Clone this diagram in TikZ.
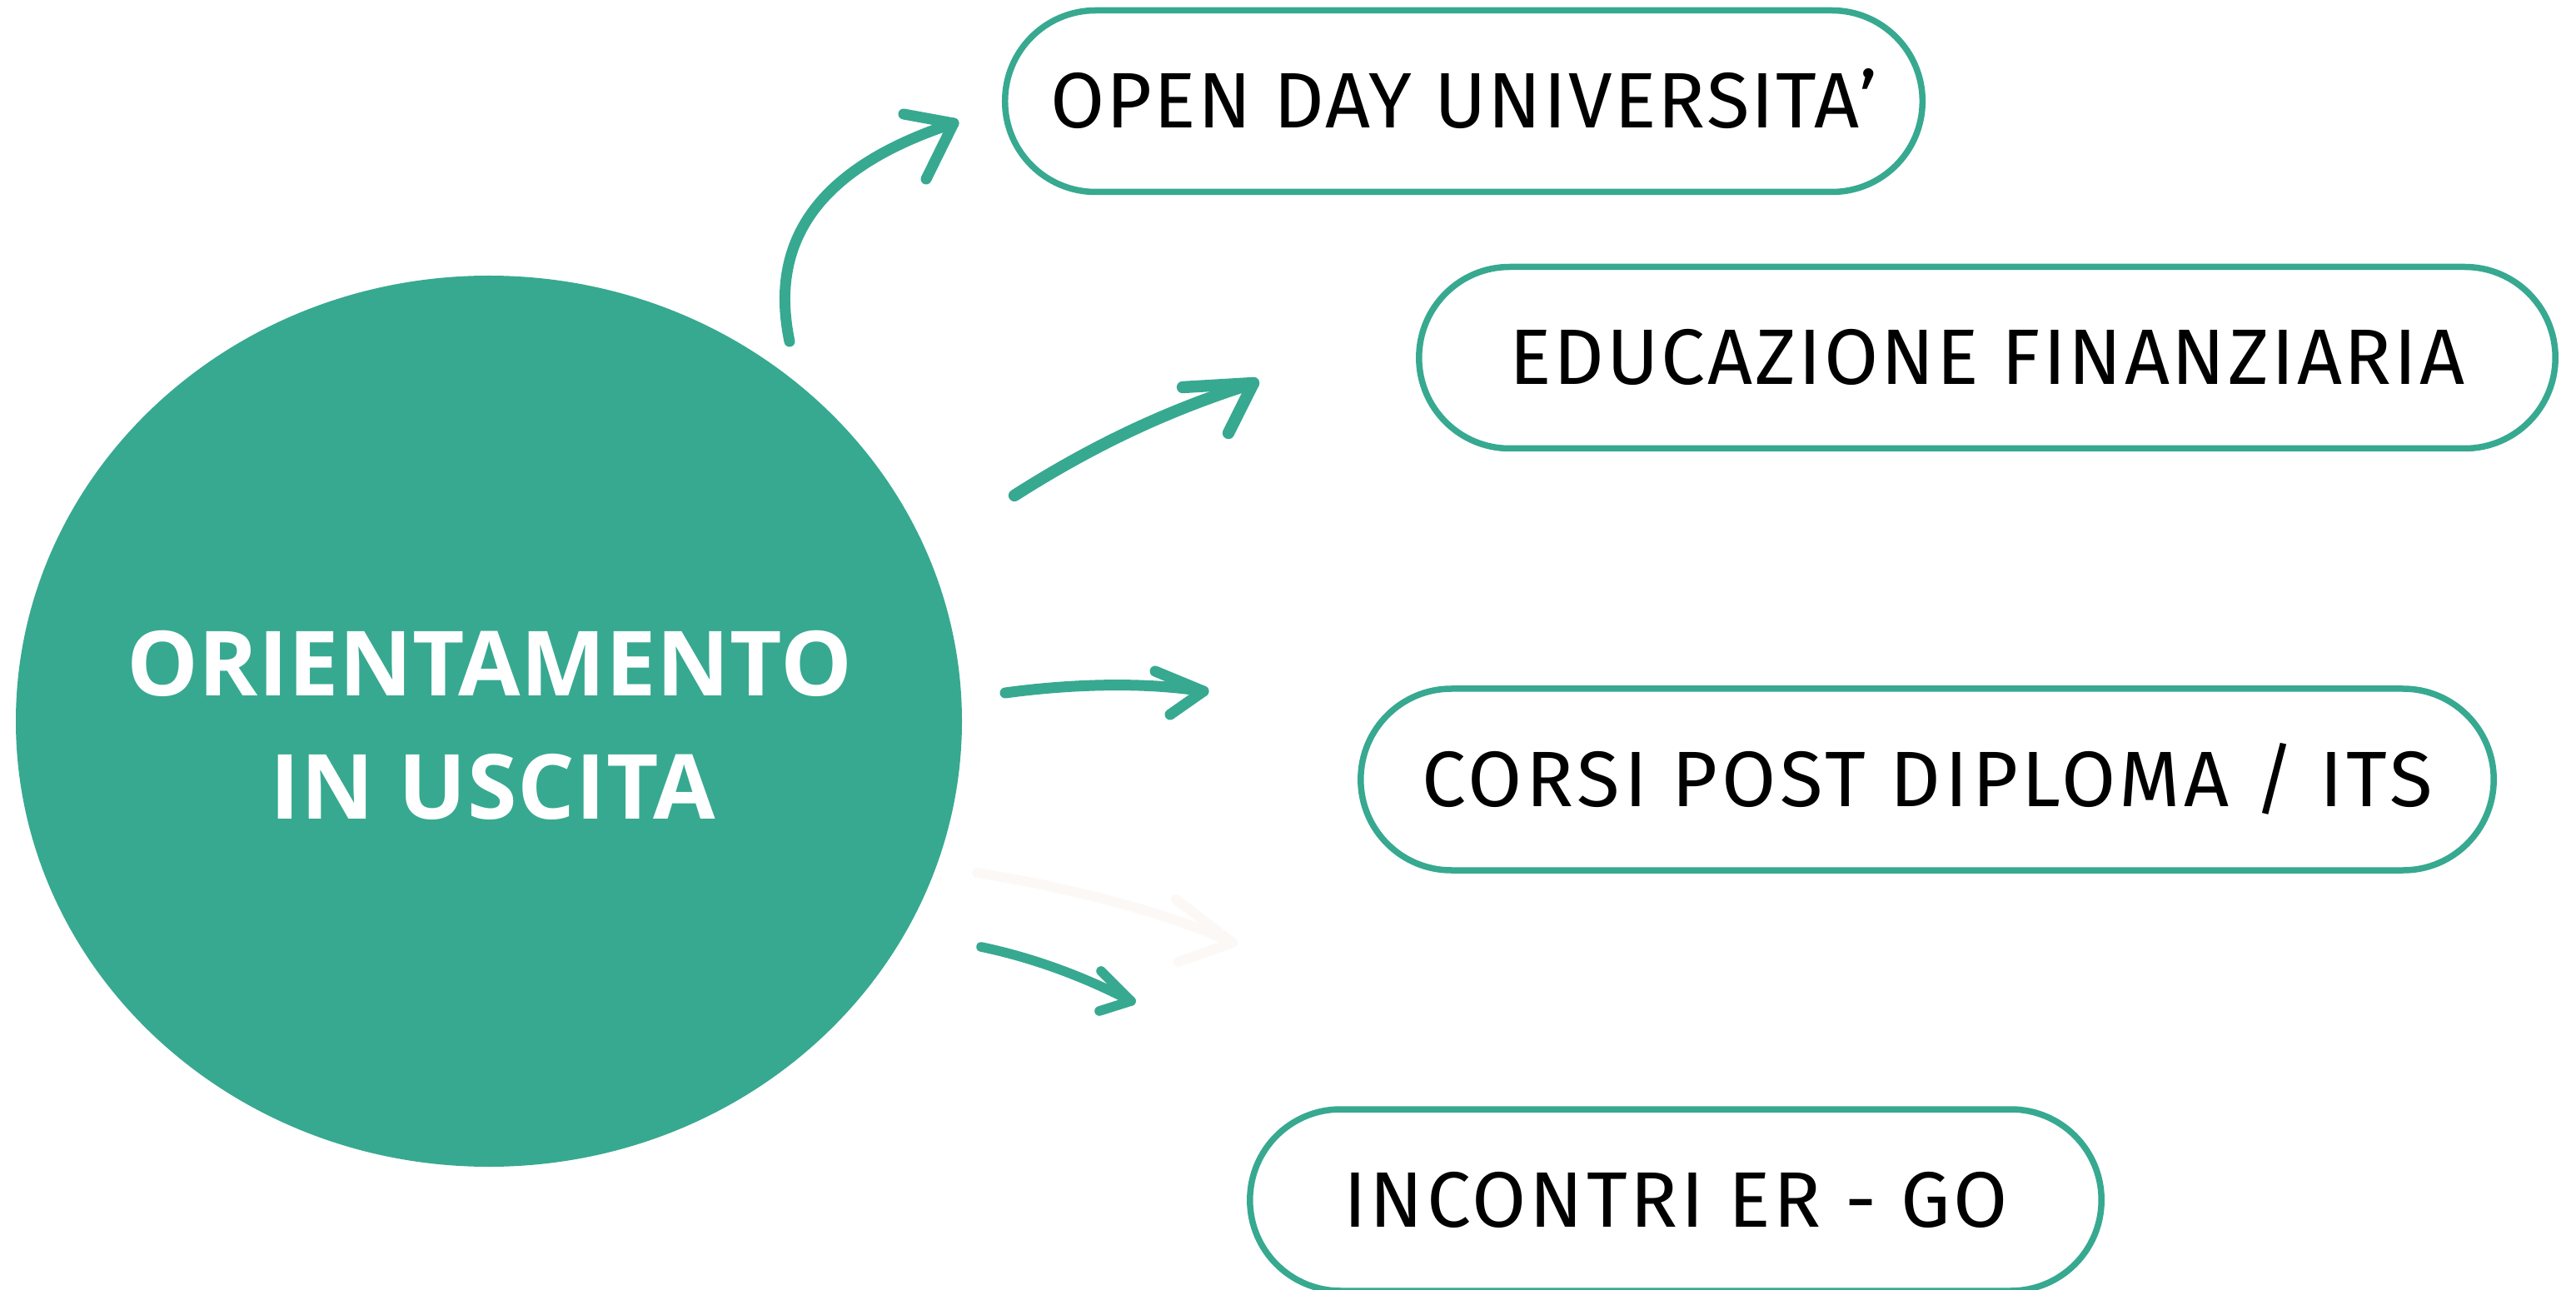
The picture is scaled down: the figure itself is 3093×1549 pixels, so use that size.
\documentclass[tikz,border=0pt]{standalone}
\usepackage{fontspec}
\setmainfont{Fira Sans}
\newfontfamily\boxfont{Fira Sans}
\newfontfamily\circfont{Open Sans}
\usetikzlibrary{shapes.geometric}
\definecolor{teal1}{HTML}{37A990}
\definecolor{ghost}{HTML}{FCF8F6}
\tikzset{
  pill/.style={draw=teal1, line width=1.875pt, rounded corners=27.2pt, fill=white,
    inner sep=0pt, minimum height=54.5pt, text height=16.25pt, text depth=0pt},
  pillfont/.style={font=\boxfont\fontsize{23.6}{28}\selectfont\addfontfeature{LetterSpace=#1}},
  brush/.style={draw=teal1, line width=3.25pt, line cap=round, line join=round},
  ghostbrush/.style={draw=ghost, line width=3pt, line cap=round, line join=round},
  circtext/.style={text=white, inner sep=0pt, anchor=base,
    font=\circfont\bfseries\fontsize{27}{32}\selectfont\addfontfeature{LetterSpace=#1}}
}
\begin{document}
\begin{tikzpicture}[x=0.25pt, y=-0.25pt]
\useasboundingbox (0,0) rectangle (3093,1549);
% central ellipse
\node[ellipse, fill=teal1, minimum width=284pt, minimum height=267.5pt, inner sep=0pt] (c) at (587,866) {};
\node[circtext=0.3] (t1) at (588,835) {ORIENTAMENTO};
\node[circtext=1] (t2) at (592,983) {IN USCITA};
% boxes
\node[pill, pillfont=2.2, minimum width=275.4pt] (b1) at (1757.5,121.5) {OPEN DAY UNIVERSITA’};
\node[pill, pillfont=3, minimum width=341.1pt] (b2) at (2386,429.5) {EDUCAZIONE FINANZIARIA};
\node[pill, pillfont=5, minimum width=340.1pt] (b3) at (2314,936) {CORSI POST DIPLOMA / ITS};
\node[pill, pillfont=4, minimum width=255.6pt] (b4) at (2012,1441) {INCONTRI ER - GO};
% arrow end coordinates
\coordinate (a1s) at (948,410);  \coordinate (a1t) at (1145,148);
\coordinate (a1u) at (1085,137); \coordinate (a1l) at (1112,215);
\coordinate (a2s) at (1218,595); \coordinate (a2t) at (1505,460);
\coordinate (a2u) at (1420,465); \coordinate (a2l) at (1475,520);
\coordinate (a3s) at (1207,832); \coordinate (a3t) at (1445,830);
\coordinate (a3u) at (1387,806); \coordinate (a3l) at (1405,858);
\coordinate (a4s) at (1178,1137); \coordinate (a4t) at (1358,1202);
\coordinate (a4u) at (1322,1166); \coordinate (a4l) at (1320,1214);
\coordinate (g5s) at (1173,1048); \coordinate (g5t) at (1480,1132);
\coordinate (g5u) at (1412,1080); \coordinate (g5l) at (1415,1155);
% faint arrow
\draw[ghostbrush] (g5s) .. controls (1280,1065) and (1400,1095) .. (g5t);
\draw[ghostbrush] (g5u) -- (g5t) -- (g5l);
% arrows
\draw[brush] (a1s) .. controls (925,300) and (970,205) .. (a1t);
\draw[brush] (a1u) -- (a1t) -- (a1l);
\draw[brush, line width=3.6pt] (a2s) .. controls (1320,530) and (1410,490) .. (a2t);
\draw[brush, line width=3.6pt] (a2u) -- (a2t) -- (a2l);
\draw[brush] (a3s) .. controls (1280,822) and (1370,818) .. (a3t);
\draw[brush] (a3u) -- (a3t) -- (a3l);
\draw[brush, line width=2.9pt] (a4s) .. controls (1240,1150) and (1300,1172) .. (a4t);
\draw[brush, line width=2.9pt] (a4u) -- (a4t) -- (a4l);
\end{tikzpicture}
\end{document}
